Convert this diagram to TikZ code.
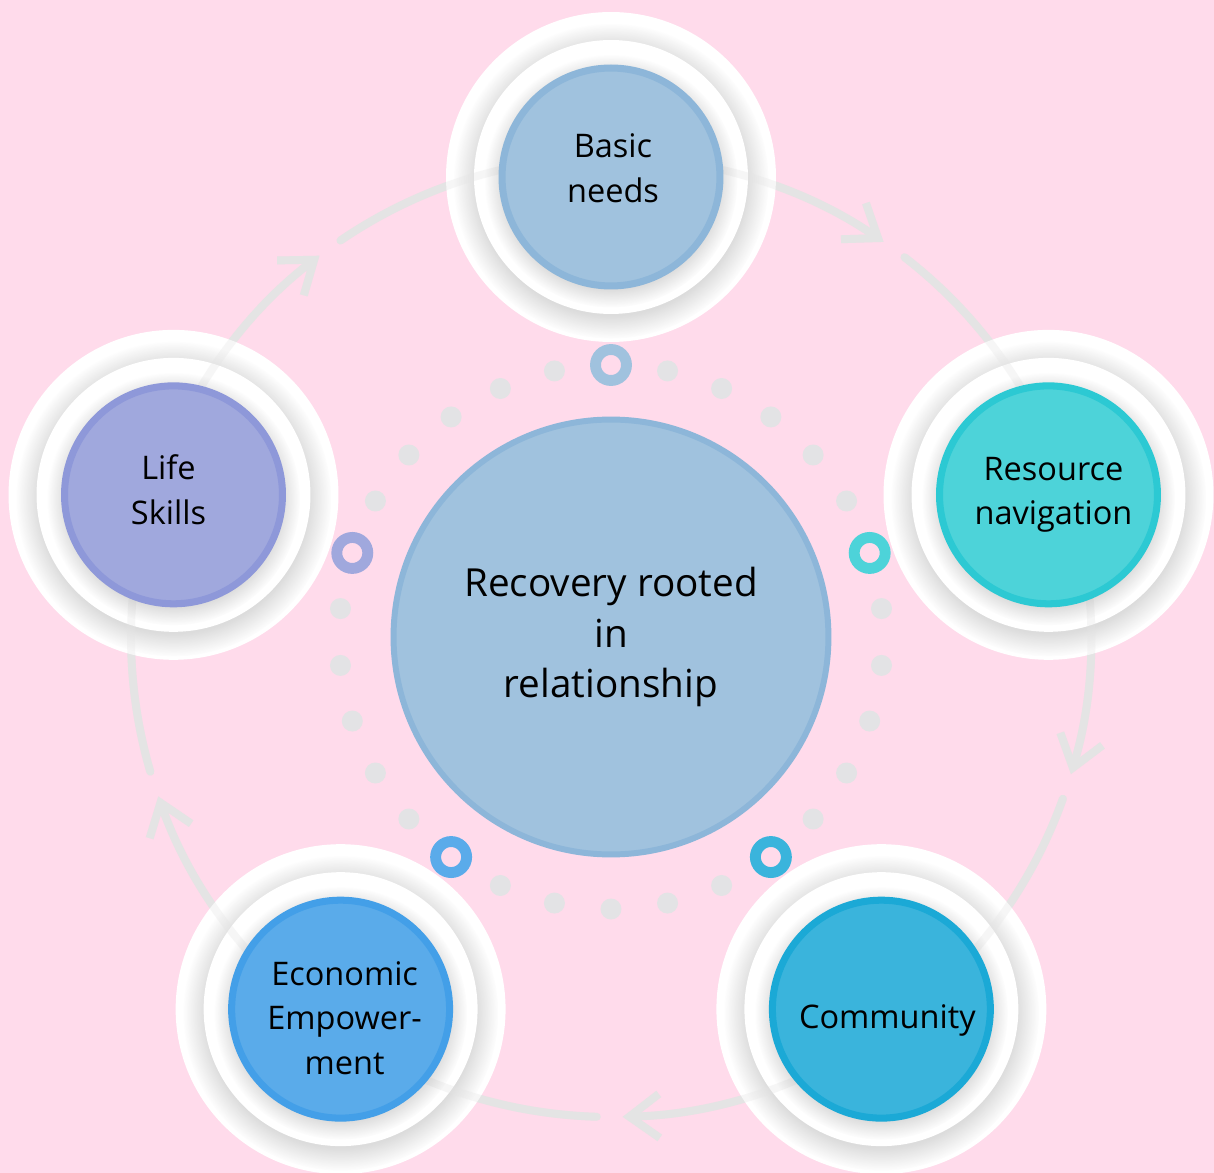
\documentclass[tikz,border=0pt]{standalone}
\usepackage{fontspec}
\setmainfont{Open Sans}
\usetikzlibrary{arrows.meta,positioning,shadows}
\definecolor{bgpink}{HTML}{FFDBEB}
\definecolor{arcgrey}{HTML}{E4E4E4}
\definecolor{dotgrey}{HTML}{E3E3E5}
\definecolor{bnfill}{HTML}{A0C2DE}
\definecolor{bnline}{HTML}{8DB6D9}
\definecolor{rnfill}{HTML}{4DD3D9}
\definecolor{rnline}{HTML}{2CC9D3}
\definecolor{cmfill}{HTML}{3AB4DC}
\definecolor{cmline}{HTML}{1BA9D6}
\definecolor{eefill}{HTML}{5AABEA}
\definecolor{eeline}{HTML}{439FE8}
\definecolor{lsfill}{HTML}{A0A8DD}
\definecolor{lsline}{HTML}{8E98D9}
\tikzset{
    %Define arrow tip of the cycle
    >={Straight Barb[length=17pt,width=25pt,sharp]},
    %outer white disk behind a step
    halo/.style={circle, fill=white, minimum size=6.6cm, inner sep=0pt},
    %inner white disk
    ringdisk/.style={circle, fill=white, minimum size=5.48cm, inner sep=0pt,
        circular drop shadow={shadow xshift=0pt, shadow yshift=-2pt,
            shadow scale=1.15, opacity=0.3, fill=black!45}},
    %coloured disk of a step
    stepdisk/.style={circle, line width=4pt, minimum size=4.36cm, inner sep=0pt,
        circular drop shadow={shadow xshift=0pt, shadow yshift=-2pt,
            shadow scale=1.16, opacity=0.3, fill=black!45}},
    steptext/.style={align=center, font=\fontsize{18.5}{25.5}\selectfont},
    %centre disk
    hub/.style={circle, fill=bnfill, draw=bnline, line width=3.4pt,
        minimum size=8.7cm, inner sep=0pt, align=center,
        font=\fontsize{22}{29}\selectfont},
    %small rings on the dotted circle
    knob/.style={circle, line width=6.2pt, minimum size=0.62cm, inner sep=0pt},
    dot/.style={fill=dotgrey},
    % Define arrow style
    pil/.style={line width=4.5pt, draw=arcgrey, line cap=round}
}
% arcs of the cycle, each one broken after its arrow tip
\newcommand\cyclearcs[1]{%
  \foreach \s/\t [count=\i, evaluate=\s as \tip using (\s+\t)/2+1.4,
                  evaluate=\s as \res using (\s+\t)/2-1.7]
      in {90/18,18/-54,-54/-126,-126/-198,-198/-270}{
    \coordinate (from\i) at (\s:480);
    \coordinate (gap\i) at (\res:480);
    \draw[pil,#1,->] (from\i) arc[start angle=\s, end angle=\tip, radius=480];
    \draw[pil,#1] (gap\i) arc[start angle=\res, end angle=\t, radius=480];
  }}

\begin{document}
\begin{tikzpicture}[x=0.02cm, y=0.02cm]
    \useasboundingbox (-611,-536) rectangle (603,637);
    \fill[bgpink] (-611,-536) rectangle (603,637);
    %dotted circle
    \foreach \a in {78,66,54,42,30,6,-6,-18,-30,-42,-66,-78,-90,-102,-114,
                    -138,-150,-162,-174,-186,150,138,126,114,102}
        \fill[dot] (\a:272) circle (10.5);
    \node[knob, draw=bnfill] (bn-knob) at (90:272) {};
    \node[knob, draw=rnfill] (rn-knob) at (18:272) {};
    \node[knob, draw=cmfill] (cm-knob) at (-54:272) {};
    \node[knob, draw=eefill] (ee-knob) at (-126:272) {};
    \node[knob, draw=lsfill] (ls-knob) at (162:272) {};
    %centre
    \node[hub] (hub) at (0,0) {Recovery rooted\\in\\relationship};
    \cyclearcs{}
    %white disks
    \node[halo] (bn-halo) at (90:460) {};
    \node[halo] (rn-halo) at (18:460) {};
    \node[halo] (cm-halo) at (-54:460) {};
    \node[halo] (ee-halo) at (-126:460) {};
    \node[halo] (ls-halo) at (162:460) {};
    \node[ringdisk] (bn-ring) at (bn-halo) {};
    \node[ringdisk] (rn-ring) at (rn-halo) {};
    \node[ringdisk] (cm-ring) at (cm-halo) {};
    \node[ringdisk] (ee-ring) at (ee-halo) {};
    \node[ringdisk] (ls-ring) at (ls-halo) {};
    % arcs seen faintly through the white disks
    \cyclearcs{draw opacity=0.3}
    %steps
    \node[stepdisk, fill=bnfill, draw=bnline] (bn) at (bn-halo) {};
    \node[stepdisk, fill=rnfill, draw=rnline] (rn) at (rn-halo) {};
    \node[stepdisk, fill=cmfill, draw=cmline] (cm) at (cm-halo) {};
    \node[stepdisk, fill=eefill, draw=eeline] (ee) at (ee-halo) {};
    \node[stepdisk, fill=lsfill, draw=lsline] (ls) at (ls-halo) {};
    \node[steptext] (bn-text) at ([shift={(2,9)}]bn.center) {Basic\\needs};
    \node[steptext] (rn-text) at ([shift={(5,0)}]rn.center) {Resource\\navigation};
    \node[steptext] (cm-text) at ([shift={(6,-11)}]cm.center) {Community};
    \node[steptext] (ee-text) at ([shift={(4,-9)}]ee.center) {Economic\\Empower-\\ment};
    \node[steptext] (ls-text) at ([shift={(-5,5)}]ls.center) {Life\\Skills};
\end{tikzpicture}
\end{document}
